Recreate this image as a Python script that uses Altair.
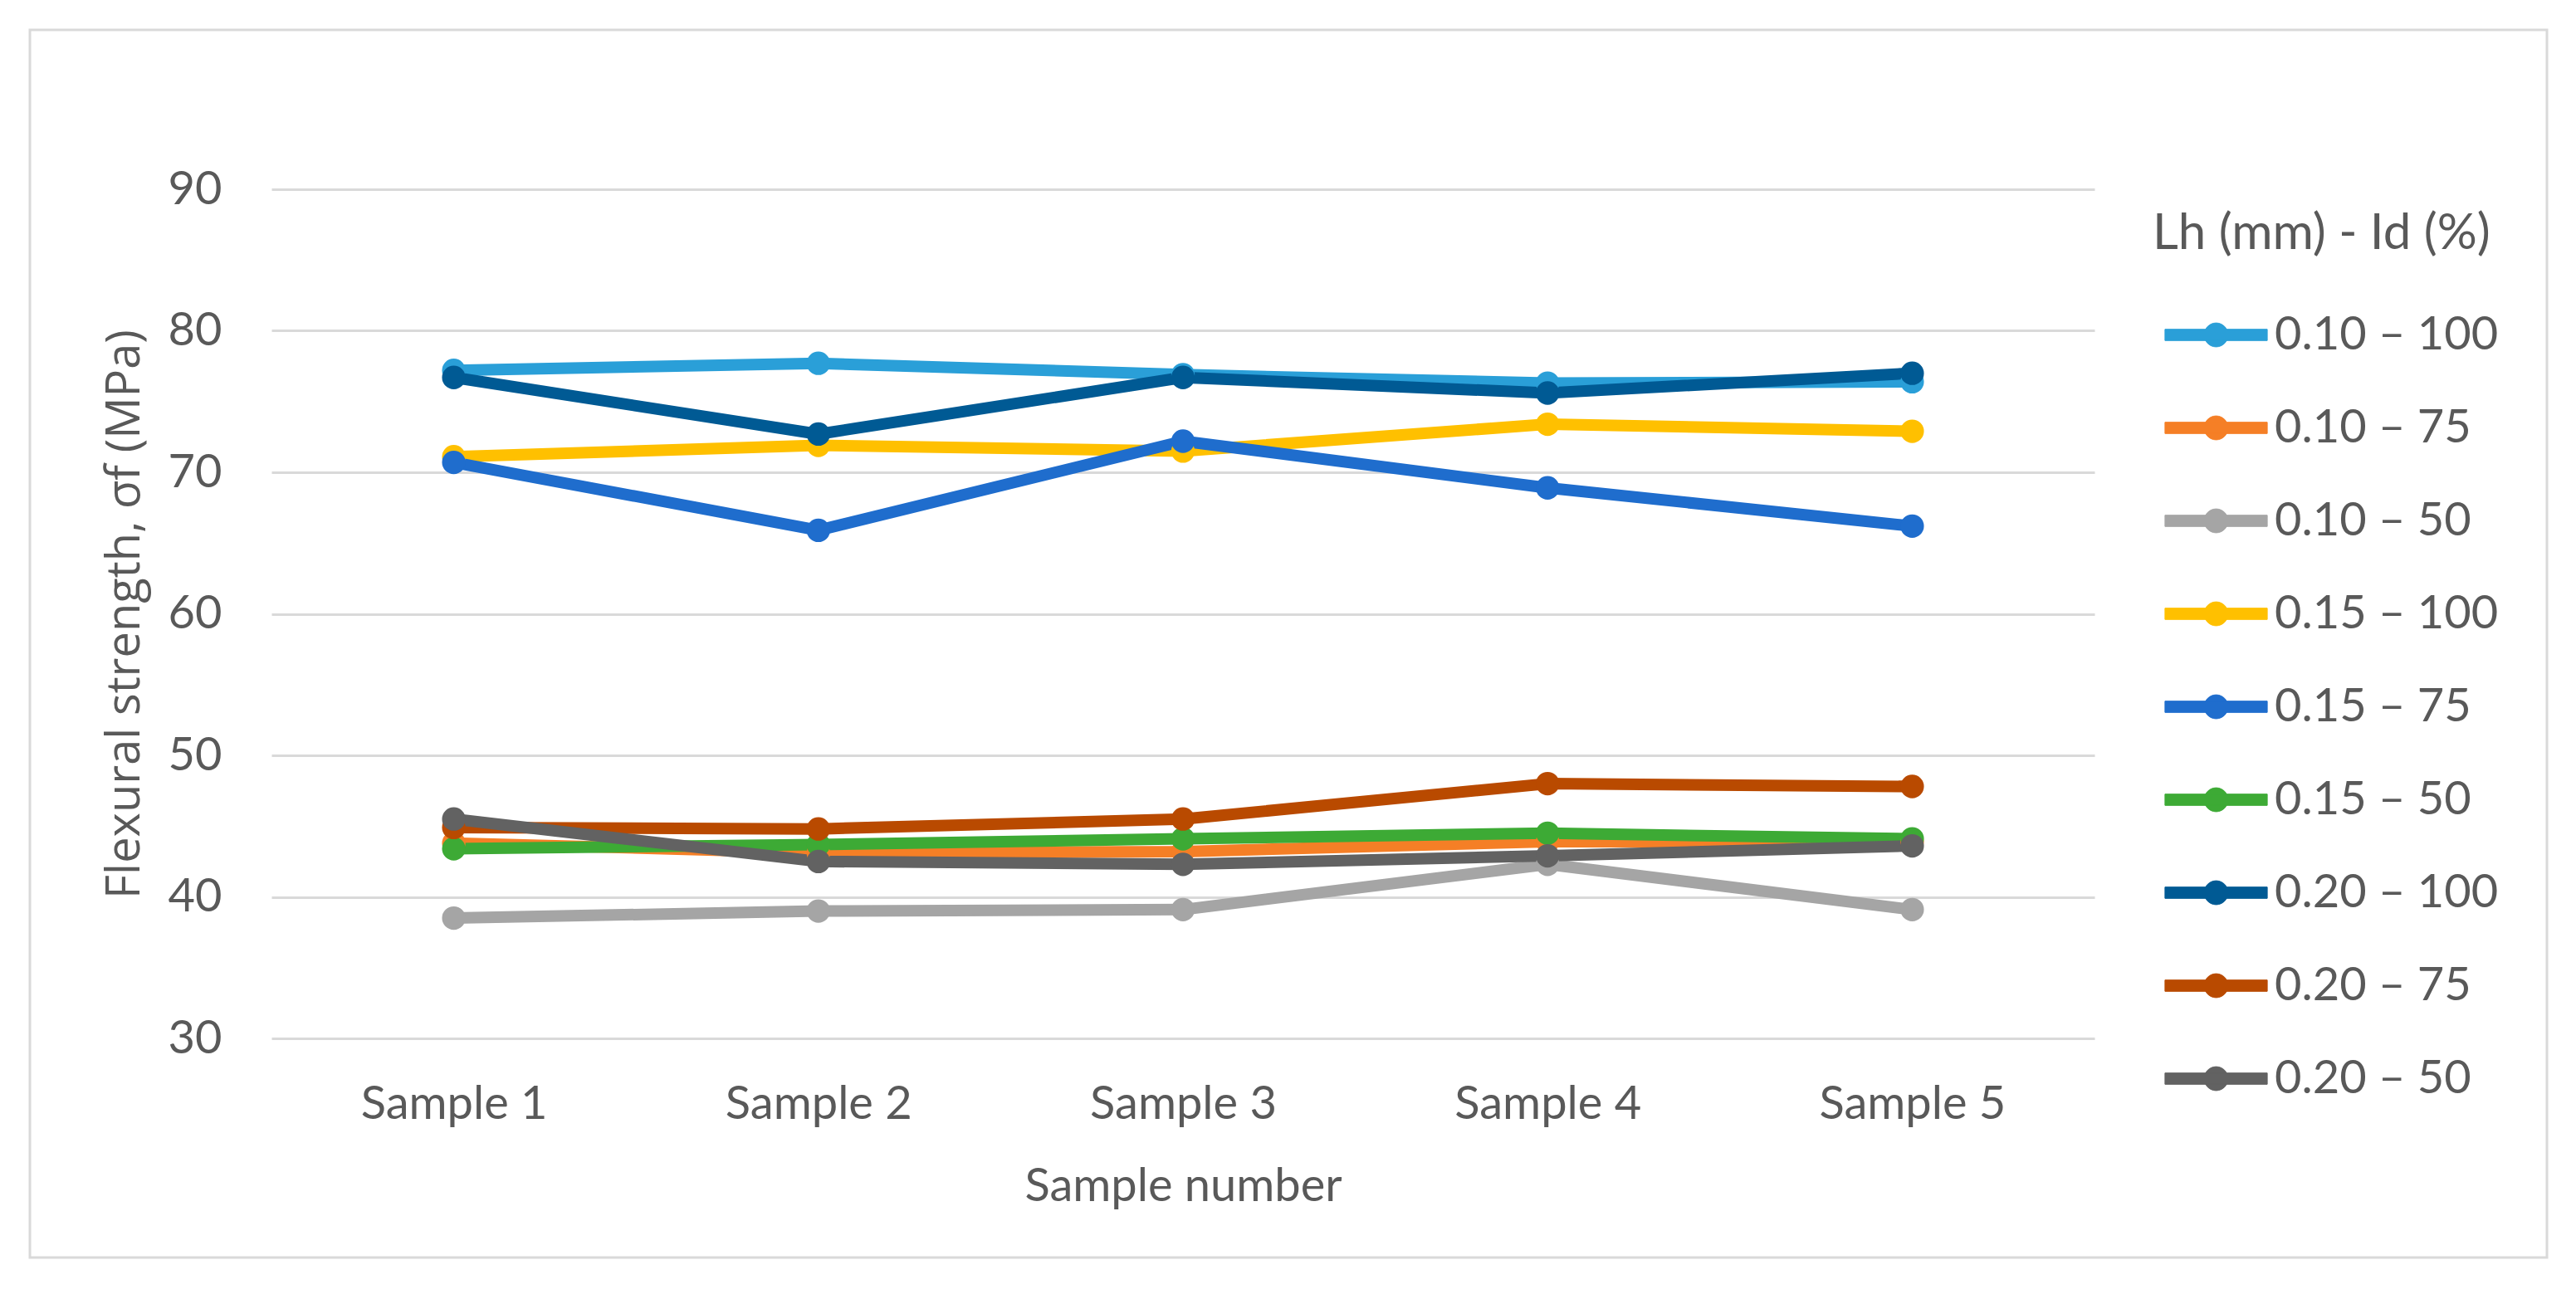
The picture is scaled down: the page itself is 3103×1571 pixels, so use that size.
import altair as alt
import pandas as pd

samples = ["Sample 1", "Sample 2", "Sample 3", "Sample 4", "Sample 5"]
series = ["0.10 – 100", "0.10 – 75", "0.10 – 50", "0.15 – 100", "0.15 – 75",
          "0.15 – 50", "0.20 – 100", "0.20 – 75", "0.20 – 50"]
colors = ["#2A9FD8", "#F57F26", "#A5A5A5", "#FFC000", "#1F6DCD",
          "#3DAA35", "#005A94", "#B94A00", "#626262"]

v_010_100 = [77.2, 77.7, 76.9, 76.3, 76.4]
v_010_75 = [43.8, 43.1, 43.2, 43.9, 43.9]
v_010_50 = [38.5, 39.0, 39.1, 42.3, 39.1]
v_015_100 = [71.1, 71.9, 71.5, 73.4, 72.9]
v_015_75 = [70.7, 65.9, 72.2, 68.9, 66.2]
v_015_50 = [43.4, 43.7, 44.1, 44.5, 44.1]
v_020_100 = [76.7, 72.7, 76.7, 75.6, 77.0]
v_020_75 = [44.9, 44.8, 45.5, 48.0, 47.8]
v_020_50 = [45.5, 42.5, 42.3, 42.9, 43.6]

y_ticks = [30, 40, 50, 60, 70, 80, 90]

all_vals = [v_010_100, v_010_75, v_010_50, v_015_100, v_015_75,
            v_015_50, v_020_100, v_020_75, v_020_50]
rows = []
for s, vals in zip(series, all_vals):
    for smp, v in zip(samples, vals):
        rows.append({"series": s, "sample": smp, "value": v})
df = pd.DataFrame(rows)

FONT = "Lato"
TXT = "#595959"
W, H = 2196, 1023

sym = ("M-1.54,-0.17 L1.54,-0.17 L1.54,0.17 L-1.54,0.17 Z "
       "M0.36,0 A0.36,0.36 0 1,1 -0.36,0 A0.36,0.36 0 1,1 0.36,0 Z")

frame = alt.Chart(pd.DataFrame({"k": [0]})).mark_rect(
    fill="transparent", stroke="#D9D9D9", strokeWidth=3
).encode(
    x=alt.value(-291), x2=alt.value(2741), y=alt.value(-192), y2=alt.value(1287)
)

lines = alt.Chart(df).mark_line(
    strokeWidth=14, strokeJoin="round", strokeCap="round",
    point=alt.OverlayMarkDef(filled=True, size=800, opacity=1)
).encode(
    x=alt.X("sample:N", sort=samples, scale=alt.Scale(type="point", padding=0.5),
            axis=alt.Axis(title="Sample number", labelAngle=0, labelFontSize=56,
                          labelFont=FONT, labelColor=TXT, labelPadding=52,
                          labelLimit=0,
                          ticks=False, domain=False, grid=False,
                          titleFont=FONT, titleFontSize=56, titleFontWeight="normal",
                          titleColor=TXT, titleY=178, titleBaseline="middle")),
    y=alt.Y("value:Q", scale=alt.Scale(domain=[30, 90], nice=False, zero=False),
            axis=alt.Axis(title="Flexural strength, σf (MPa)", values=y_ticks,
                          labelFontSize=56, labelFont=FONT, labelColor=TXT,
                          labelPadding=60, ticks=False, domain=False,
                          gridColor="#D9D9D9", gridWidth=3,
                          titleFont="Open Sans", titleFontSize=56,
                          titleFontWeight="normal", titleColor=TXT,
                          titleX=-177, titleY=H / 2, titleBaseline="middle",
                          titleAngle=270, titleLimit=0)),
    color=alt.Color("series:N", sort=series,
                    scale=alt.Scale(domain=series, range=colors),
                    legend=alt.Legend(
                        title="Lh (mm) - Id (%)", orient="none",
                        legendX=2266, legendY=25, padding=0,
                        titleFont=FONT, titleFontSize=60, titleFontWeight="normal",
                        titleColor=TXT, titlePadding=50, titleLimit=0,
                        labelFont=FONT, labelFontSize=56, labelColor=TXT,
                        labelLimit=0,
                        labelOffset=30, symbolType=sym, symbolSize=6400,
                        symbolStrokeWidth=1, symbolOffset=36, rowPadding=43,
                        symbolOpacity=1, symbolLimit=0)),
)

chart = alt.layer(frame, lines).properties(
    width=W, height=H,
    autosize=alt.AutoSizeParams(type="none"),
    padding={"left": 319, "top": 220, "right": 560, "bottom": 300},
    background="white",
).configure_view(stroke=None)

chart.save("out.html", embed_options={"renderer": "svg", "actions": False})
